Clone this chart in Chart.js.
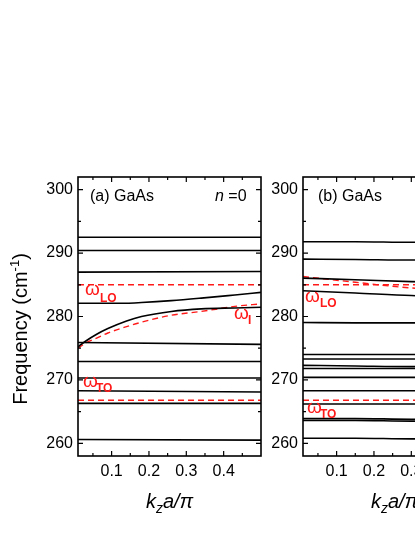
<!DOCTYPE html>
<html>
<head>
<meta charset="utf-8">
<script src="https://cdn.jsdelivr.net/npm/chart.js@4.4.1/dist/chart.umd.min.js"></script>
<style>
  html, body { margin: 0; padding: 0; background: #fff; overflow: hidden; }
  body { width: 415px; height: 537px; position: relative; }
  .panel { position: absolute; top: 0; width: 270px; height: 537px; }
  #panelA { left: 0; }
  #panelB { left: 225px; }
</style>
</head>
<body>
<div class="panel" id="panelA"><canvas id="chartA" width="270" height="537"></canvas></div>
<div class="panel" id="panelB"><canvas id="chartB" width="270" height="537"></canvas></div>
<script>
// axis ticks
const Y_MAJOR = [260, 270, 280, 290, 300];
const Y_MINOR = [265, 275, 285, 295];
const X_MAJOR = [0.1, 0.2, 0.3, 0.4];
const X_MINOR = [0.05, 0.15, 0.25, 0.35, 0.45];
const KZ_ENDS = [0.01, 0.5];

// panel (a) GaAs, n = 0 : flat modes (value at kz=0.01, value at kz=0.5)
const A_FLAT_START = [292.5, 290.4, 287.0, 275.9, 272.9, 270.3, 268.3, 266.3, 260.6];
const A_FLAT_END   = [292.5, 290.4, 287.1, 275.6, 272.9, 270.3, 268.1, 266.3, 260.5];
// panel (a) dispersive modes
const A_KZ        = [0.01, 0.03, 0.06, 0.09, 0.14, 0.18, 0.26, 0.34, 0.43, 0.5];
const A_MODE_LOW  = [275.2, 276.1, 277.2, 278.1, 279.3, 280.0, 280.8, 281.2, 281.35, 281.45];
const A_MODE_HIGH = [282.1, 282.1, 282.1, 282.1, 282.1, 282.2, 282.5, 282.9, 283.4, 283.8];
const A_OMEGA_I   = [275.0, 275.8, 276.6, 277.4, 278.4, 279.1, 280.2, 280.8, 281.6, 282.0];
const A_OMEGA_LO = 285.0;
const A_OMEGA_TO = 266.8;

// panel (b) GaAs
const B_KZ = [0.01, 0.15, 0.3, 0.5];
const B_MODES = [
  [291.8, 291.8, 291.7, 291.7],
  [289.05, 289.0, 288.9, 288.9],
  [286.05, 285.8, 285.5, 285.3],
  [284.05, 283.7, 283.3, 283.0],
  [279.05, 279.0, 279.0, 279.0],
  [274.0, 274.0, 274.0, 274.0],
  [273.3, 273.3, 273.3, 273.3],
  [272.3, 272.2, 272.1, 272.1],
  [271.8, 271.8, 271.8, 271.8],
  [270.4, 270.4, 270.4, 270.4],
  [268.3, 268.3, 268.3, 268.3],
  [266.2, 266.2, 266.2, 266.2],
  [263.9, 263.9, 263.8, 263.8],
  [263.6, 263.6, 263.5, 263.5],
  [260.8, 260.8, 260.7, 260.7]
];
const B_DASH_DESC = [286.3, 285.4, 284.5, 284.0];
const B_OMEGA_LO = 285.0;
const B_OMEGA_TO = 266.8;

const F = '"Liberation Sans", Arial, sans-serif';
const RED = '#ff1a1a';

function pts(xs, ys) {
  return xs.map((x, i) => ({ x: x, y: ys[i] }));
}
function solid(xs, ys) {
  return { data: pts(xs, ys), showLine: true, borderColor: '#000', borderWidth: 1.6,
           pointRadius: 0, cubicInterpolationMode: 'monotone' };
}
function dashed(xs, ys) {
  return { data: pts(xs, ys), showLine: true, borderColor: RED, borderWidth: 1.4,
           borderDash: [6, 4], pointRadius: 0, cubicInterpolationMode: 'monotone' };
}

function drawRich(ctx, x, y, parts, center) {
  let w = 0;
  parts.forEach(p => { ctx.font = p[1]; w += ctx.measureText(p[0]).width; });
  let cx = center ? x - w / 2 : x;
  parts.forEach(p => {
    ctx.font = p[1];
    ctx.fillText(p[0], cx, y + (p[2] || 0));
    cx += ctx.measureText(p[0]).width;
  });
}

// frame with inward ticks on all four sides
const frameTicks = {
  id: 'frameTicks',
  afterDatasetsDraw(chart) {
    const { ctx, chartArea: a, scales: { x, y } } = chart;
    ctx.save();
    ctx.strokeStyle = '#000';
    ctx.lineWidth = 1.2;
    ctx.beginPath();
    const yt = (v, len) => {
      const p = y.getPixelForValue(v);
      ctx.moveTo(a.left, p); ctx.lineTo(a.left + len, p);
      ctx.moveTo(a.right, p); ctx.lineTo(a.right - len, p);
    };
    const xt = (v, len) => {
      const p = x.getPixelForValue(v);
      ctx.moveTo(p, a.bottom); ctx.lineTo(p, a.bottom - len);
      ctx.moveTo(p, a.top); ctx.lineTo(p, a.top + len);
    };
    Y_MAJOR.forEach(v => yt(v, 5));
    Y_MINOR.forEach(v => yt(v, 3));
    X_MAJOR.forEach(v => xt(v, 5));
    X_MINOR.forEach(v => xt(v, 3));
    ctx.stroke();
    ctx.lineWidth = 1.6;
    ctx.strokeRect(a.left, a.top, a.right - a.left, a.bottom - a.top);
    ctx.restore();
  }
};

function makeChart(id, datasets, drawLabels) {
  const labelsPlugin = {
    id: 'labels_' + id,
    afterDraw(chart) {
      const { ctx, chartArea: a } = chart;
      ctx.save();
      ctx.textAlign = 'left';
      ctx.textBaseline = 'alphabetic';
      ctx.fillStyle = '#000';
      // x axis title: k_z a / pi
      drawRich(ctx, (a.left + a.right) / 2, 508, [
        ['k', `italic 20px ${F}`],
        ['z', `italic 14px ${F}`, 5],
        ['a/\u03c0', `italic 20px ${F}`]
      ], true);
      drawLabels(ctx, a);
      ctx.restore();
    }
  };
  return new Chart(document.getElementById(id), {
    type: 'scatter',
    data: { datasets: datasets },
    options: {
      responsive: false,
      animation: false,
      layout: { padding: { top: 177, right: 9, left: 0, bottom: 0 } },
      plugins: { legend: { display: false }, tooltip: { enabled: false } },
      scales: {
        x: {
          type: 'linear', min: KZ_ENDS[0], max: KZ_ENDS[1],
          grid: { display: false, drawTicks: false }, border: { display: false },
          afterBuildTicks: s => { s.ticks = X_MAJOR.map(v => ({ value: v })); },
          afterFit: s => { s.height = 81; },
          ticks: { color: '#000', font: { family: F, size: 16 }, padding: 6,
                   maxRotation: 0, autoSkip: false, callback: v => v.toFixed(1) }
        },
        y: {
          type: 'linear', min: 258.0, max: 302.0,
          grid: { display: false, drawTicks: false }, border: { display: false },
          afterBuildTicks: s => { s.ticks = Y_MAJOR.map(v => ({ value: v })); },
          afterFit: s => { s.width = 78; },
          ticks: { color: '#000', font: { family: F, size: 16 }, padding: 5,
                   autoSkip: false, callback: v => String(v) }
        }
      }
    },
    plugins: [frameTicks, labelsPlugin]
  });
}

// ---- panel (a)
const dsA = [];
A_FLAT_START.forEach((v, i) => dsA.push(solid(KZ_ENDS, [v, A_FLAT_END[i]])));
dsA.push(solid(A_KZ, A_MODE_LOW));
dsA.push(solid(A_KZ, A_MODE_HIGH));
dsA.push(dashed(A_KZ, A_OMEGA_I));
dsA.push(dashed(KZ_ENDS, [A_OMEGA_LO, A_OMEGA_LO]));
dsA.push(dashed(KZ_ENDS, [A_OMEGA_TO, A_OMEGA_TO]));

makeChart('chartA', dsA, (ctx, a) => {
  drawRich(ctx, 90, 201, [['(a) GaAs', `16px ${F}`]]);
  drawRich(ctx, 215, 201, [['n', `italic 16px ${F}`], [' =0', `16px ${F}`]]);
  // y axis title
  ctx.save();
  ctx.translate(26.5, 329);
  ctx.rotate(-Math.PI / 2);
  drawRich(ctx, 0, 0, [
    ['Frequency (cm', `20px ${F}`],
    ['-1', `13px ${F}`, -8],
    [')', `20px ${F}`]
  ], true);
  ctx.restore();
  ctx.fillStyle = RED;
  drawRich(ctx, 85, 295, [['\u03c9', `19px ${F}`]]);
  drawRich(ctx, 100, 302, [['LO', `bold 12px ${F}`]]);
  drawRich(ctx, 83, 387, [['\u03c9', `19px ${F}`]]);
  drawRich(ctx, 96, 392, [['TO', `bold 12px ${F}`]]);
  drawRich(ctx, 234, 319, [['\u03c9', `19px ${F}`]]);
  drawRich(ctx, 248, 324, [['I', `bold 12px ${F}`]]);
});

// ---- panel (b)
const dsB = [];
B_MODES.forEach(m => dsB.push(solid(B_KZ, m)));
dsB.push(dashed(B_KZ, B_DASH_DESC));
dsB.push(dashed(KZ_ENDS, [B_OMEGA_LO, B_OMEGA_LO]));
dsB.push(dashed(KZ_ENDS, [B_OMEGA_TO, B_OMEGA_TO]));

makeChart('chartB', dsB, (ctx, a) => {
  drawRich(ctx, a.left + 15, 201, [['(b) GaAs', `16px ${F}`]]);
  ctx.fillStyle = RED;
  drawRich(ctx, a.left + 2, 302, [['\u03c9', `19px ${F}`]]);
  drawRich(ctx, a.left + 17, 307, [['LO', `bold 12px ${F}`]]);
  drawRich(ctx, a.left + 4, 413, [['\u03c9', `19px ${F}`]]);
  drawRich(ctx, a.left + 17, 418, [['TO', `bold 12px ${F}`]]);
});
</script>
</body>
</html>
